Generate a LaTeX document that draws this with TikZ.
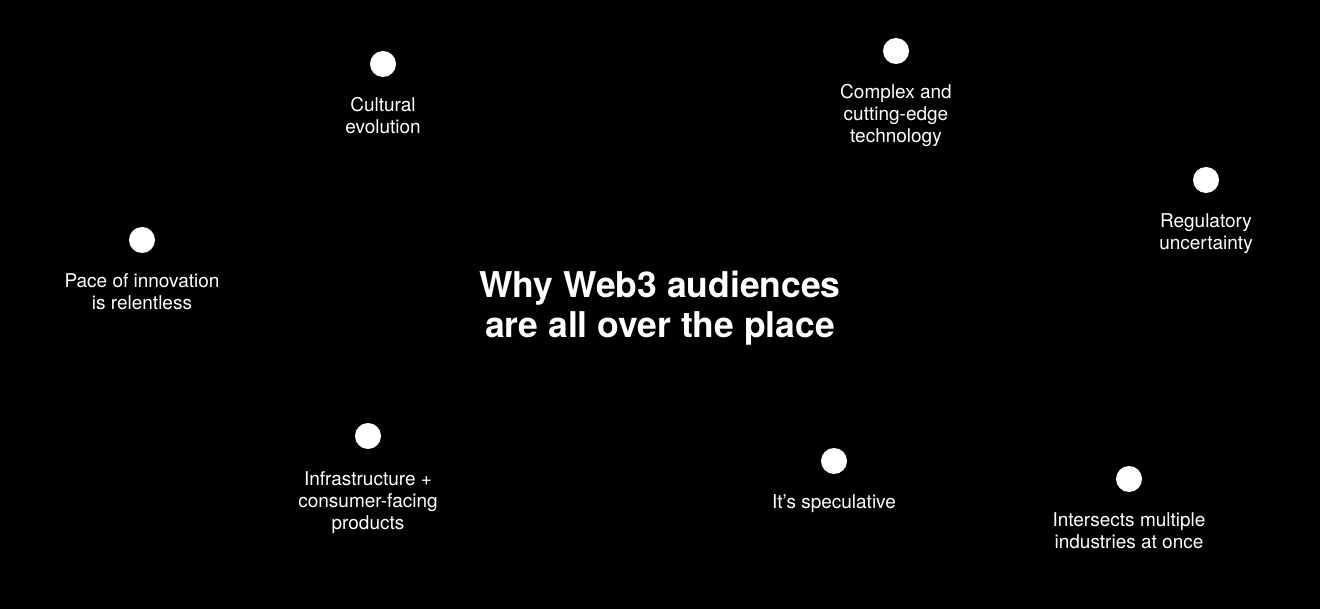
\documentclass[tikz,border=0pt]{standalone}
\usepackage{fontspec}
\setmainfont{TeX Gyre Heros}
\begin{document}
\begin{tikzpicture}[x=1pt,y=-1pt,
  dot/.style={circle,fill=white,draw=none,minimum size=26pt,inner sep=0pt},
  lbl/.style={text=white,anchor=base,align=center,inner sep=0pt,
    font=\fontsize{19}{22}\selectfont},
  ttl/.style={text=white,anchor=base,align=center,inner sep=0pt,
    font=\fontsize{35.5}{40}\selectfont\bfseries}]
\fill[black] (0,0) rectangle (1320,609);
\useasboundingbox (0,0) rectangle (1320,609);
\node[ttl] (title) at (660,338) {Why Web3 audiences\\are all over the place};
\node[dot] (d1) at (383,64) {};
\node[lbl] (t1) at (383,133.5) {Cultural\\evolution};
\node[dot] (d2) at (896,51) {};
\node[lbl] (t2) at (896,142.5) {Complex and\\cutting-edge\\technology};
\node[dot] (d3) at (1206,180) {};
\node[lbl] (t3) at (1206,249.5) {Regulatory\\uncertainty};
\node[dot] (d4) at (142,240) {};
\node[lbl] (t4) at (142,309.5) {Pace of innovation\\is relentless};
\node[dot] (d5) at (368,436) {};
\node[lbl] (t5) at (368,529.5) {Infrastructure +\\consumer-facing\\products};
\node[dot] (d6) at (834,461) {};
\node[lbl] (t6) at (834,508.5) {It’s speculative};
\node[dot] (d7) at (1129,479) {};
\node[lbl] (t7) at (1129,548.5) {Intersects multiple\\industries at once};
\end{tikzpicture}
\end{document}
